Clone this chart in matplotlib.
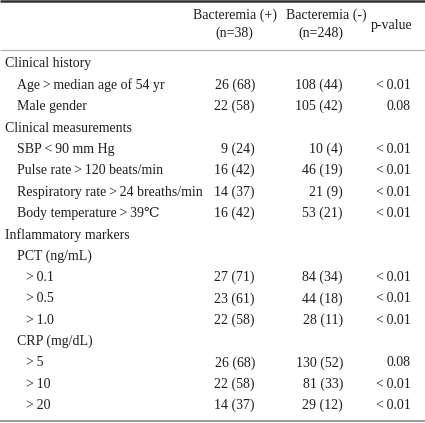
import matplotlib
matplotlib.use("Agg")
import matplotlib.pyplot as plt

plt.rcParams['font.family'] = ['Liberation Serif', 'DejaVu Serif', 'Noto Sans CJK KR']

T = '\u2009'  # thin space around the comparison signs

# table content
header_pos = ['Bacteremia (+)', '(n=38)']
header_neg = ['Bacteremia (-)', '(n=248)']
header_p = 'p-value'

labels = ['Clinical history', f'Age{T}>{T}median age of 54 yr', 'Male gender',
          'Clinical measurements', f'SBP{T}<{T}90 mm Hg', f'Pulse rate{T}>{T}120 beats/min',
          f'Respiratory rate{T}>{T}24 breaths/min', f'Body temperature{T}>{T}39\u2103',
          'Inflammatory markers', 'PCT (ng/mL)', f'>{T}0.1', f'>{T}0.5', f'>{T}1.0',
          'CRP (mg/dL)', f'>{T}5', f'>{T}10', f'>{T}20']
indent = [0, 1, 1, 0, 1, 1, 1, 1, 0, 1, 2, 2, 2, 1, 2, 2, 2]
bact_pos = ['', '26 (68)', '22 (58)', '', '9 (24)', '16 (42)', '14 (37)', '16 (42)',
            '', '', '27 (71)', '23 (61)', '22 (58)', '', '26 (68)', '22 (58)', '14 (37)']
bact_neg = ['', '108 (44)', '105 (42)', '', '10 (4)', '46 (19)', '21 (9)', '53 (21)',
            '', '', '84 (34)', '44 (18)', '28 (11)', '', '130 (52)', '81 (33)', '29 (12)']
pvals = ['', f'<{T}0.01', '0.08', '', f'<{T}0.01', f'<{T}0.01', f'<{T}0.01', f'<{T}0.01',
         '', '', f'<{T}0.01', f'<{T}0.01', f'<{T}0.01', '', '0.08', f'<{T}0.01', f'<{T}0.01']

W, H = 425, 423
fig = plt.figure(figsize=(W / 100, H / 100), dpi=100)
ax = fig.add_axes([0, 0, 1, 1])
ax.set_xlim(0, W)
ax.set_ylim(H, 0)
ax.axis('off')

fs = 10.0
color = '#1e1e1e'

# rules
ax.plot([0, W], [1.2, 1.2], color='#333333', lw=1.8, solid_capstyle='butt')
ax.plot([0, W], [50, 50], color='#b0b0b0', lw=0.9, solid_capstyle='butt')

# header
ax.text(235, 15, header_pos[0], ha='center', va='center', fontsize=fs, color=color)
ax.text(234, 33, header_pos[1], ha='center', va='center', fontsize=fs, color=color)
ax.text(326, 15, header_neg[0], ha='center', va='center', fontsize=fs, color=color)
ax.text(321, 33, header_neg[1], ha='center', va='center', fontsize=fs, color=color)
ax.text(392, 25, header_p, ha='center', va='center', fontsize=fs, color=color)

y0, dy = 64, 21.35
indent_x = [5, 17, 26]
for i, lab in enumerate(labels):
    y = y0 + i * dy
    ax.text(indent_x[indent[i]], y, lab, ha='left', va='center', fontsize=fs, color=color)
    ax.text(255, y, bact_pos[i], ha='right', va='center', fontsize=fs, color=color)
    ax.text(343, y, bact_neg[i], ha='right', va='center', fontsize=fs, color=color)
    ax.text(411, y, pvals[i], ha='right', va='center', fontsize=fs, color=color)

yb = y0 + (len(labels) - 1) * dy + 15
ax.plot([0, W], [yb, yb], color='#999999', lw=1.4, solid_capstyle='butt')

fig.savefig('out.png', dpi=100)
